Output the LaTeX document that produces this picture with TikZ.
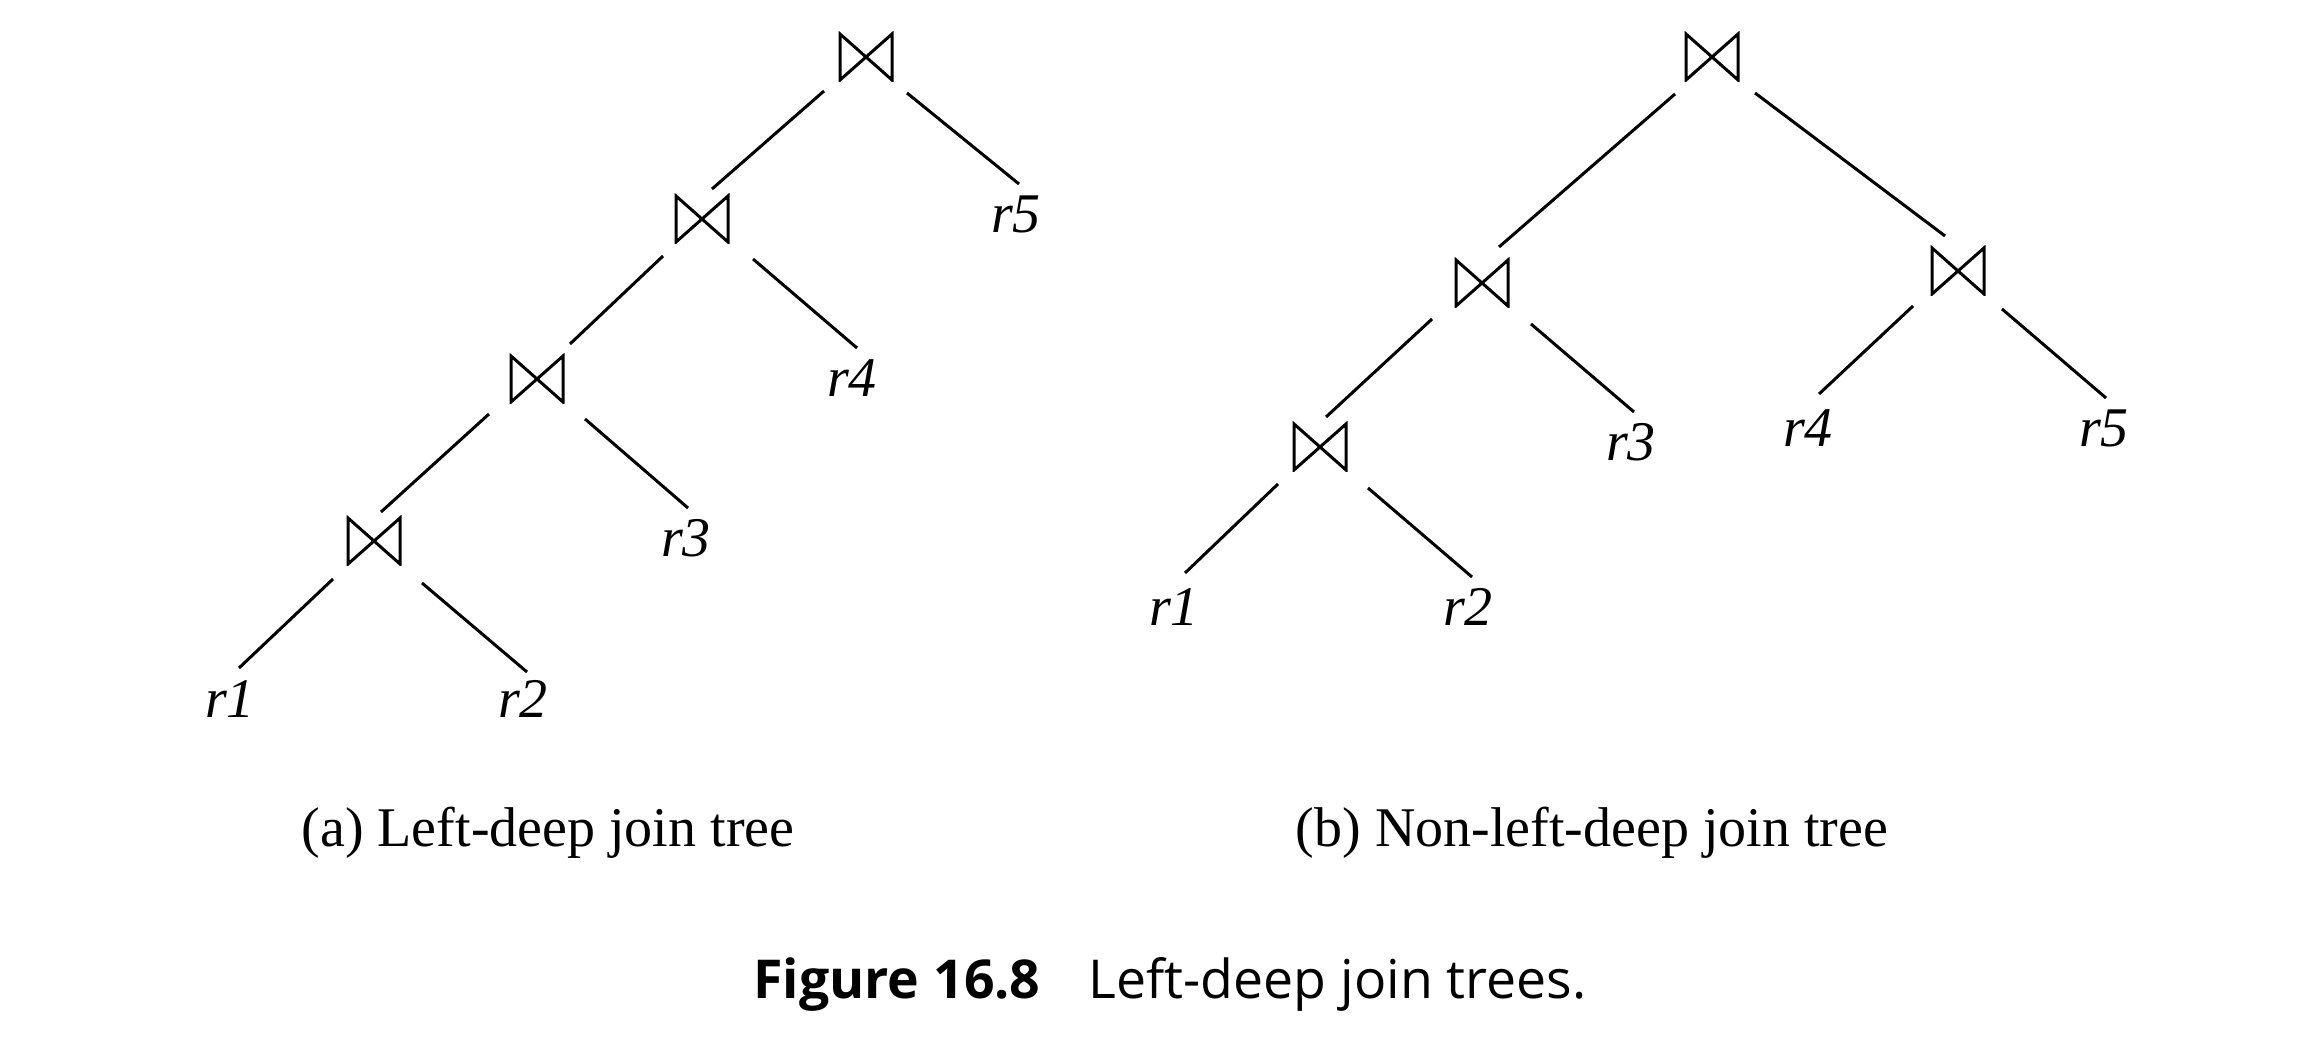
\documentclass[tikz,border=0pt]{standalone}
\usepackage{fontspec}
\setmainfont{Liberation Serif}
\newfontfamily\capfont{Open Sans}
\usetikzlibrary{calc}
\begin{document}
\begin{tikzpicture}[x=0.25pt,y=-0.25pt,
  joinnode/.style={inner sep=0pt, minimum width=14pt, minimum height=12.5pt,
    path picture={\draw[line width=0.75pt]
      ([shift={(0.5pt,-0.5pt)}]path picture bounding box.north west) --
      ([shift={(-0.5pt,0.5pt)}]path picture bounding box.south east) --
      ([shift={(-0.5pt,-0.5pt)}]path picture bounding box.north east) --
      ([shift={(0.5pt,0.5pt)}]path picture bounding box.south west) -- cycle;}},
  conn/.style={line width=0.75pt},
  rel/.style={inner sep=0pt, font=\fontsize{14}{16}\selectfont\itshape},
  subcap/.style={inner sep=0pt, anchor=base, font=\fontsize{14}{16}\selectfont},
]
\useasboundingbox (0,0) rectangle (2308,1046);

% ---------- (a) left-deep tree ----------
\node[joinnode] (Ja1) at (866,57) {};
\node[joinnode] (Ja2) at (702,219) {};
\node[joinnode] (Ja3) at (537,379) {};
\node[joinnode] (Ja4) at (374,541) {};
\node[rel] (r5a) at (1016,214) {r5};
\node[rel] (r4a) at (852,378) {r4};
\node[rel] (r3a) at (686,538) {r3};
\node[rel] (r1a) at (230,699) {r1};
\node[rel] (r2a) at (523,699) {r2};

\draw[conn] ([shift={(-42,34)}]Ja1.center) -- ([shift={(10,-30)}]Ja2.center);
\draw[conn] ([shift={(41,36)}]Ja1.center) -- ([shift={(3,-30)}]r5a.center);
\draw[conn] ([shift={(-39,37)}]Ja2.center) -- ([shift={(33,-35)}]Ja3.center);
\draw[conn] ([shift={(51,40)}]Ja2.center) -- ([shift={(5,-30)}]r4a.center);
\draw[conn] ([shift={(-48,35)}]Ja3.center) -- ([shift={(7,-29)}]Ja4.center);
\draw[conn] ([shift={(48,40)}]Ja3.center) -- ([shift={(2,-30)}]r3a.center);
\draw[conn] ([shift={(-41,38)}]Ja4.center) -- ([shift={(9,-31)}]r1a.center);
\draw[conn] ([shift={(48,42)}]Ja4.center) -- ([shift={(4,-27)}]r2a.center);

\node[subcap] (capa) at (548,846) {(a) Left-deep join tree};

% ---------- (b) non-left-deep tree ----------
\node[joinnode] (Jb1) at (1712,57) {};
\node[joinnode] (Jb2) at (1482,283) {};
\node[joinnode] (Jb3) at (1958,271) {};
\node[joinnode] (Jb4) at (1320,447) {};
\node[rel] (r3b) at (1631,442) {r3};
\node[rel] (r4b) at (1808,428) {r4};
\node[rel] (r5b) at (2104,428) {r5};
\node[rel] (r1b) at (1174,607) {r1};
\node[rel] (r2b) at (1468,607) {r2};

\draw[conn] ([shift={(-37,37)}]Jb1.center) -- ([shift={(17,-36)}]Jb2.center);
\draw[conn] ([shift={(43,36)}]Jb1.center) -- ([shift={(-13,-35)}]Jb3.center);
\draw[conn] ([shift={(-50,36)}]Jb2.center) -- ([shift={(6,-30)}]Jb4.center);
\draw[conn] ([shift={(49,41)}]Jb2.center) -- ([shift={(3,-30)}]r3b.center);
\draw[conn] ([shift={(-45,35)}]Jb3.center) -- ([shift={(11,-34)}]r4b.center);
\draw[conn] ([shift={(44,38)}]Jb3.center) -- ([shift={(2,-30)}]r5b.center);
\draw[conn] ([shift={(-42,37)}]Jb4.center) -- ([shift={(11,-34)}]r1b.center);
\draw[conn] ([shift={(48,41)}]Jb4.center) -- ([shift={(4,-30)}]r2b.center);

\node[subcap] (capb) at (1592,846) {(b) Non-left-deep join tree};

% ---------- figure caption ----------
\node[anchor=base, inner sep=0pt] (fig) at (1170,998)
  {\capfont\fontsize{13.4}{16}\selectfont\textbf{Figure 16.8}\hspace{12pt}Left-deep join trees.};
\end{tikzpicture}
\end{document}
